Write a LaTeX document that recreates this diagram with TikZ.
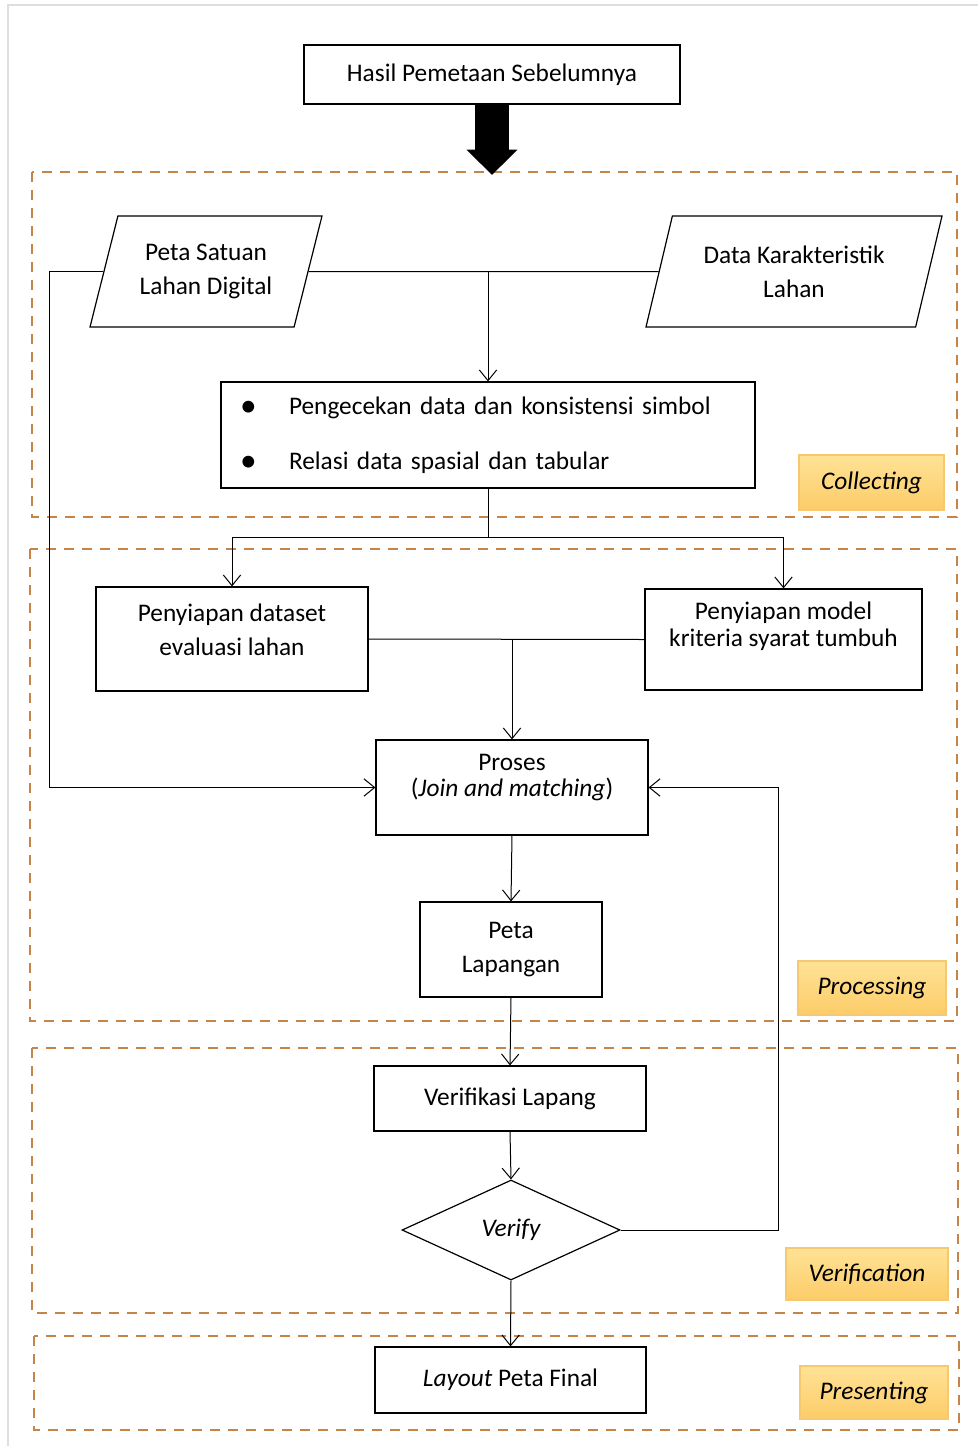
\documentclass[tikz,border=0pt]{standalone}
\usepackage{fontspec}
\setmainfont{Carlito}
\usetikzlibrary{arrows.meta,shapes.geometric,positioning}
\definecolor{frameOrange}{RGB}{198,132,72}
\definecolor{tagTop}{RGB}{255,226,150}
\definecolor{tagBottom}{RGB}{252,204,104}
\definecolor{tagLine}{RGB}{246,200,112}
\definecolor{pageGray}{RGB}{222,222,222}
\newcommand{\BulletItem}[1]{\makebox[36.75pt][l]{\raisebox{-2pt}{\fontsize{25}{25.5}\selectfont\textbullet}}#1}

\begin{document}
\begin{tikzpicture}[x=0.75pt,y=-0.75pt,
  font=\fontsize{19}{25.5}\selectfont,
  box/.style={draw,line width=0.9pt,align=center,inner sep=0pt},
  tightbox/.style={box,font=\fontsize{19}{20}\selectfont},
  inout/.style={box,trapezium,trapezium left angle=63,trapezium right angle=117,
    trapezium stretches body,minimum height=83.25pt},
  decide/.style={box,diamond,font=\fontsize{19}{25.5}\selectfont\itshape},
  tag/.style={draw=tagLine,line width=0.8pt,top color=tagTop,bottom color=tagBottom,
    font=\fontsize{19}{25.5}\selectfont\itshape,inner sep=0pt},
  stage/.style={draw=frameOrange,line width=1.6pt,dash pattern=on 7.5pt off 6pt},
  link/.style={line width=0.75pt},
  arr/.style={link,-{Straight Barb[length=8pt,width=13pt]}},
  bigarrow/.style={line width=25.5pt,-{Triangle[length=19pt,width=37pt]}}]

\useasboundingbox (0,0) rectangle (978,1446);
\draw[pageGray,line width=1pt] (8,1446) -- (8,5) -- (978,5);

% stages
\draw[stage] (32,172) rectangle (957,517);
\draw[stage] (30,549) rectangle (957,1021);
\draw[stage] (32,1048) rectangle (958,1313);
\draw[stage] (34,1336) rectangle (959,1430);

\node[tag,minimum width=108.75pt,minimum height=41.25pt] (tagCollect) at (871.5,482.5) {Collecting};
\node[tag,minimum width=111pt,minimum height=40.5pt] (tagProcess) at (872,988) {Processing};
\node[tag,minimum width=121.5pt,minimum height=39pt] (tagVerify) at (867,1274) {Verification};
\node[tag,minimum width=111pt,minimum height=39.75pt] (tagPresent) at (874,1392.5) {Presenting};

% nodes
\node[box,minimum width=282pt,minimum height=44.25pt] (hasil) at (492,74.5) {Hasil Pemetaan Sebelumnya};
\coordinate (arrowTip) at (492,175);

\node[inout,minimum width=174pt] (petaDigital) at (206,271.5) {Peta Satuan\\Lahan Digital};
\node[inout,minimum width=222pt] (dataKarak) at (794,271.5) {Data Karakteristik\\Lahan};

\node[box,align=left,text width=372pt,inner xsep=14.25pt,minimum height=79.5pt] (cek) at (488,435)
  {\BulletItem{Pengecekan data dan konsistensi simbol}\\[15.75pt]\BulletItem{Relasi data spasial dan tabular}};

\node[box,minimum width=204pt,minimum height=78pt] (dataset) at (232,639) {Penyiapan dataset\\evaluasi lahan\\[-12pt]\mbox{}};
\node[tightbox,minimum width=207.75pt,minimum height=75.75pt] (model) at (783.5,639.5) {Penyiapan model\\kriteria syarat tumbuh\\[2.5pt]\mbox{}};

\node[tightbox,minimum width=204pt,minimum height=71.25pt] (proses) at (512,787.5) {Proses\\(\textit{Join and matching})\\[-2pt]\mbox{}};
\node[box,minimum width=136.5pt,minimum height=71.25pt] (lapangan) at (511,949.5) {Peta\\Lapangan};
\node[box,minimum width=204pt,minimum height=48.75pt] (verifikasi) at (510,1098.5) {Verifikasi Lapang};
\node[decide,minimum width=163.5pt,minimum height=75pt] (verify) at (511,1230) {Verify};
\node[box,minimum width=203.25pt,minimum height=49.5pt] (layout) at (510.5,1380) {\textit{Layout} Peta Final};

% connectors
\draw[bigarrow] (hasil.south) -- (arrowTip);
\draw[link] (petaDigital.east) -- (dataKarak.west);
\draw[arr] (petaDigital.east -| cek.north) -- (cek.north);
\draw[arr] (petaDigital.west) -- ++(-54,0) |- (proses.west);
\draw[link] (cek.south) -- ++(0,49) coordinate (split);
\draw[arr] (split) -| (dataset.north);
\draw[arr] (split) -| (model.north);
\draw[link] (dataset.east) -- (model.west);
\draw[arr] (dataset.east -| proses.north) -- (proses.north);
\draw[arr] (proses.south) -- (lapangan.north);
\draw[arr] (lapangan.south) -- (verifikasi.north);
\draw[arr] (verifikasi.south) -- (verify.north);
\draw[arr] (verify.east) -- ++(158,0) |- (proses.east);
\draw[arr] (verify.south) -- (layout.north);
\end{tikzpicture}
\end{document}
